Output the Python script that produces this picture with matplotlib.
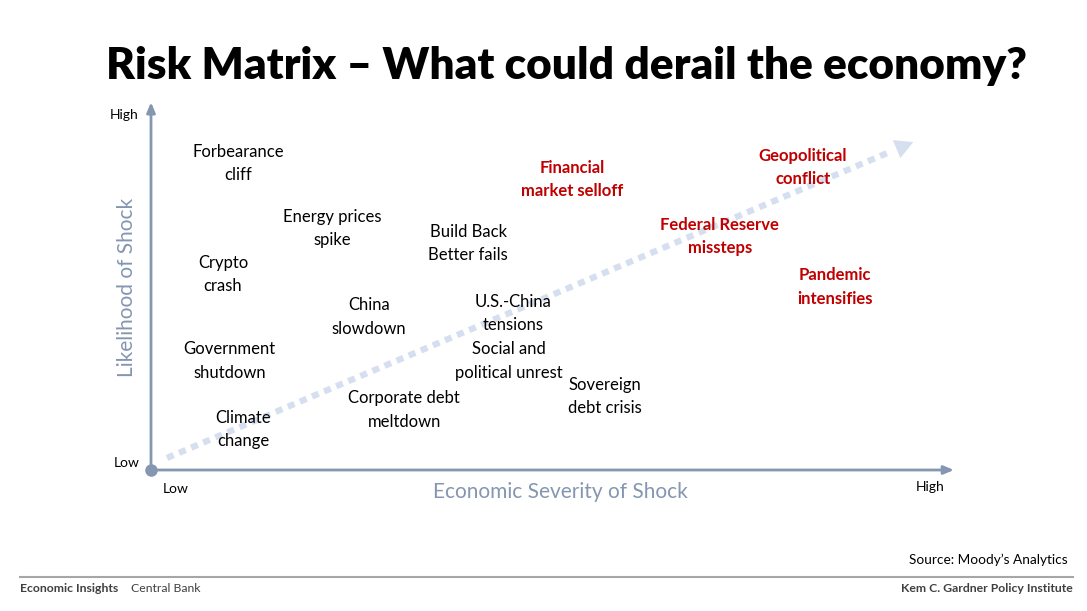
import matplotlib.pyplot as plt

plt.rcParams['font.family'] = ['Lato', 'DejaVu Sans']

# risk labels: (severity, likelihood) on a 0-10 scale
risk_names = ['Forbearance\ncliff', 'Energy prices\nspike', 'Build Back\nBetter fails',
              'Crypto\ncrash', 'China\nslowdown', 'U.S.-China\ntensions',
              'Government\nshutdown', 'Social and\npolitical unrest', 'Sovereign\ndebt crisis',
              'Corporate debt\nmeltdown', 'Climate\nchange']
risk_x = [1.09, 2.27, 3.97, 0.90, 2.73, 4.53, 0.98, 4.48, 5.68, 3.17, 1.15]
risk_y = [8.37, 6.59, 6.18, 5.33, 4.18, 4.27, 2.98, 2.98, 2.00, 1.64, 1.10]

top_names = ['Financial\nmarket selloff', 'Geopolitical\nconflict',
             'Federal Reserve\nmissteps', 'Pandemic\nintensifies']
top_x = [5.27, 8.16, 7.12, 8.56]
top_y = [7.93, 8.26, 6.37, 5.00]

trend_start = (0.2, 0.33)
trend_end = (9.54, 8.96)

axis_col = '#8496b0'
trend_col = '#d5dff0'
red = '#c00000'

fig = plt.figure(figsize=(10.87, 6.11), dpi=100)
ax = fig.add_axes([151 / 1087, (611 - 470) / 611, 799 / 1087, 366 / 611])
ax.set_xlim(0, 10)
ax.set_ylim(0, 10)
ax.axis('off')

# axes with arrows
ax.annotate('', xy=(0, 10.05), xytext=(0, 0), annotation_clip=False,
            arrowprops=dict(arrowstyle='-|>,head_length=0.6,head_width=0.25',
                            color=axis_col, lw=2, shrinkA=0, shrinkB=0))
ax.annotate('', xy=(10.05, 0), xytext=(0, 0), annotation_clip=False,
            arrowprops=dict(arrowstyle='-|>,head_length=0.6,head_width=0.25',
                            color=axis_col, lw=2, shrinkA=0, shrinkB=0))
ax.plot([0], [0], 'o', color=axis_col, ms=8, clip_on=False, zorder=5)

# dotted trend arrow
dx = trend_end[0] - trend_start[0]
dy = trend_end[1] - trend_start[1]
ax.plot([trend_start[0], trend_start[0] + dx * 0.965], [trend_start[1], trend_start[1] + dy * 0.965],
        color=trend_col, lw=4.5, linestyle=(0, (1.15, 0.95)), solid_capstyle='butt', clip_on=False)
ax.annotate('', xy=trend_end, xytext=(trend_start[0] + dx * 0.96, trend_start[1] + dy * 0.96),
            annotation_clip=False,
            arrowprops=dict(arrowstyle='-|>,head_length=1.3,head_width=0.7',
                            color=trend_col, lw=0, shrinkA=0, shrinkB=0))

for name, x, y in zip(risk_names, risk_x, risk_y):
    ax.text(x, y, name, ha='center', va='center', fontsize=12, color='black', linespacing=1.55)
for name, x, y in zip(top_names, top_x, top_y):
    ax.text(x, y, name, ha='center', va='center', fontsize=12, color=red,
            fontweight='bold', linespacing=1.55)

# High / Low labels
fig.text(124 / 1087, 1 - 115 / 611, 'High', ha='center', va='center', fontsize=10)
fig.text(127 / 1087, 1 - 463 / 611, 'Low', ha='center', va='center', fontsize=10)
fig.text(176 / 1087, 1 - 489 / 611, 'Low', ha='center', va='center', fontsize=10)
fig.text(930 / 1087, 1 - 487 / 611, 'High', ha='center', va='center', fontsize=10)

fig.text(127 / 1087, 1 - 287 / 611, 'Likelihood of Shock', rotation=90, ha='center', va='center',
         fontsize=15, color=axis_col)
fig.text(560 / 1087, 1 - 492 / 611, 'Economic Severity of Shock', ha='center', va='center',
         fontsize=15, color=axis_col)

fig.text(567 / 1087, 1 - 66 / 611, 'Risk Matrix \u2013 What could derail the economy?',
         ha='center', va='center', fontsize=31.8, fontweight='heavy')

# footer
fig.text(1068 / 1087, 1 - 560 / 611, 'Source: Moody\u2019s Analytics', ha='right', va='center', fontsize=9.8)
fig.add_artist(plt.Line2D([20 / 1087, 1073 / 1087], [1 - 577 / 611] * 2, color='#a6a6a6', lw=1.5))
fig.text(20 / 1087, 1 - 589 / 611, 'Economic Insights', ha='left', va='center', fontsize=8.8,
         fontweight='bold', color='#404040')
fig.text(131 / 1087, 1 - 589 / 611, 'Central Bank', ha='left', va='center', fontsize=8.8, color='#404040')
fig.text(1073 / 1087, 1 - 589 / 611, 'Kem C. Gardner Policy Institute', ha='right', va='center',
         fontsize=8.8, fontweight='bold', color='#404040')

fig.savefig('out.png', dpi=100)
